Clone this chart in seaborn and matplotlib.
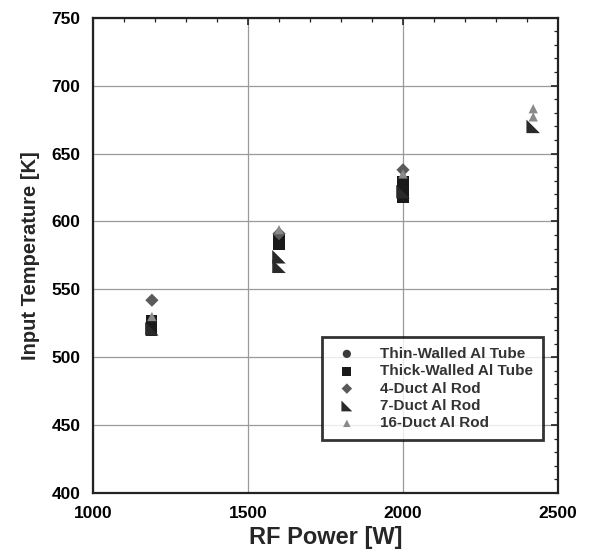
import matplotlib
matplotlib.use("Agg")
import matplotlib.pyplot as plt
import seaborn as sns
import pandas as pd

# Measured input temperature vs RF power for each heat-exchanger geometry
thin_power = [1190, 1600, 2000]
thin_temp = [526, 588, 630]

thick_power = [1190, 1190, 1600, 1600, 2000, 2000, 2000]
thick_temp = [520, 527, 583, 587, 618, 624, 629]

duct4_power = [1190, 1600, 2000]
duct4_temp = [542, 591, 638]

duct7_power = [1190, 1600, 1600, 2000, 2420]
duct7_temp = [521, 574, 567, 622, 670]

duct16_power = [1190, 1600, 2000, 2420, 2420]
duct16_temp = [530, 594, 635, 683, 677]

series_names = ["Thin-Walled Al Tube", "Thick-Walled Al Tube", "4-Duct Al Rod",
                "7-Duct Al Rod", "16-Duct Al Rod"]

frames = []
for name, p, t in zip(series_names,
                      [thin_power, thick_power, duct4_power, duct7_power, duct16_power],
                      [thin_temp, thick_temp, duct4_temp, duct7_temp, duct16_temp]):
    frames.append(pd.DataFrame({"power": p, "temp": t, "series": name}))
df = pd.concat(frames, ignore_index=True)

sns.set_theme(style="white")
plt.rcParams["font.family"] = ["Liberation Sans", "DejaVu Sans"]

right_tri = [(-1, -1), (1, -1), (-1, 1), (-1, -1)]
markers = {"Thin-Walled Al Tube": "o", "Thick-Walled Al Tube": "s",
           "4-Duct Al Rod": "D", "7-Duct Al Rod": right_tri, "16-Duct Al Rod": "^"}
palette = {"Thin-Walled Al Tube": "#3a3a3a", "Thick-Walled Al Tube": "#1a1a1a",
           "4-Duct Al Rod": "#5a5a5a", "7-Duct Al Rod": "#2a2a2a",
           "16-Duct Al Rod": "#8a8a8a"}
sizes = {"Thin-Walled Al Tube": 55, "Thick-Walled Al Tube": 65,
         "4-Duct Al Rod": 45, "7-Duct Al Rod": 95, "16-Duct Al Rod": 45}

fig = plt.figure(figsize=(6.0, 5.54), dpi=100)
ax = fig.add_axes([0.155, 0.11, 0.775, 0.858])

for name in series_names:
    sub = df[df["series"] == name]
    sns.scatterplot(data=sub, x="power", y="temp", marker=markers[name],
                    color=palette[name], s=sizes[name], edgecolor="none",
                    label=name, ax=ax, zorder=3)

ax.set_xlim(1000, 2500)
ax.set_ylim(400, 750)
ax.set_xticks([1000, 1500, 2000, 2500])
ax.set_yticks(range(400, 751, 50))
ax.set_xticks(range(1000, 2501, 100), minor=True)
ax.set_yticks(range(400, 751, 10), minor=True)
ax.grid(True, which="major", color="#9a9a9a", linewidth=0.9)
ax.tick_params(which="both", direction="in", top=True, right=True,
               colors="#222222", labelcolor="black")
ax.tick_params(which="major", length=5, width=1.2, labelsize=12.5, pad=9)
ax.tick_params(which="minor", length=3, width=0.9)
for lab in ax.get_xticklabels() + ax.get_yticklabels():
    lab.set_fontweight("bold")
for sp in ax.spines.values():
    sp.set_color("#222222")
    sp.set_linewidth(1.6)

ax.set_xlabel("RF Power [W]", fontsize=17, fontweight="bold", labelpad=4)
ax.set_ylabel("Input Temperature [K]", fontsize=14.5, fontweight="bold", labelpad=8)

leg = ax.legend(loc="lower right", bbox_to_anchor=(0.985, 0.095), frameon=True,
                fancybox=False, fontsize=11, handletextpad=1.2, borderpad=0.65,
                labelspacing=0.22, markerscale=0.8, edgecolor="black")
leg.get_frame().set_linewidth(2.0)
for txt in leg.get_texts():
    txt.set_fontweight("bold")
    txt.set_color("#333333")

fig.savefig("out.png", dpi=100, facecolor="white")
